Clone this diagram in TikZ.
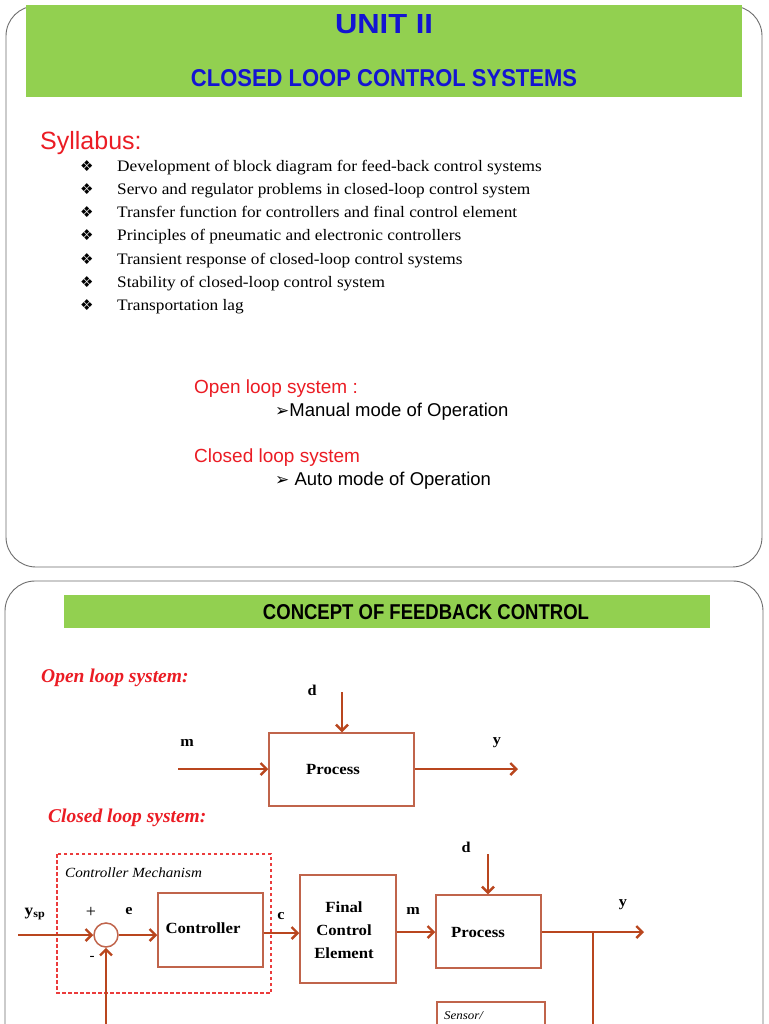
\documentclass[tikz,border=0pt]{standalone}
\usepackage{fontspec}
\usepackage{graphicx}
\setmainfont{Liberation Serif}
\newfontfamily\wideserif[FakeStretch=1.08]{Liberation Serif}
\newfontfamily\arialf{Liberation Sans}
\newfontfamily\dejavuf{DejaVu Sans}
\usetikzlibrary{arrows.meta}
\definecolor{bannergreen}{RGB}{146,208,80}
\definecolor{titleblue}{RGB}{20,20,210}
\definecolor{slidered}{RGB}{235,28,36}
\definecolor{arrowbrown}{RGB}{185,70,30}
\definecolor{boxbrown}{RGB}{192,100,75}
\definecolor{dashred}{RGB}{235,60,60}
\definecolor{slidegray}{RGB}{110,110,110}
\tikzset{
  slideframe/.style={draw=slidegray, line width=0.9pt, rounded corners=30pt},
  banner/.style={fill=bannergreen, draw=none},
  blockbox/.style={draw=boxbrown, line width=1.5pt},
  flow/.style={draw=arrowbrown, line width=2.4pt, -{Straight Barb[length=6pt,width=12pt]}},
  flowline/.style={draw=arrowbrown, line width=2.4pt},
  sumcircle/.style={circle, draw=boxbrown, line width=1.5pt, minimum size=24pt, inner sep=0pt},
  lbl/.style={font=\wideserif\fontsize{15}{17}\selectfont\bfseries, inner sep=0pt},
  blocktext/.style={font=\wideserif\fontsize{15.5}{23}\selectfont\bfseries, inner sep=0pt, align=center},
  itemtext/.style={font=\wideserif\fontsize{16}{18}\selectfont, anchor=base west, inner sep=0pt},
  bulletmark/.style={font=\dejavuf\fontsize{15}{17}\selectfont, anchor=base west, inner sep=0pt},
  redhead/.style={font=\arialf\fontsize{19}{22}\selectfont, text=slidered, anchor=base west, inner sep=0pt},
  blackhead/.style={font=\arialf\fontsize{18.5}{22}\selectfont, anchor=base west, inner sep=0pt},
  reditalic/.style={font=\fontsize{19.5}{22}\selectfont\bfseries\itshape, text=slidered, anchor=base west, inner sep=0pt}
}
\begin{document}
\begin{tikzpicture}[x=1pt,y=-1pt]
\path[use as bounding box] (0,0) rectangle (768,1024);
\clip (0,0) rectangle (768,1024);
\fill[white] (0,0) rectangle (768,1024);

% ---------- slide 1 ----------
\draw[slideframe] (6,6) rectangle (762,567);
\fill[banner] (26,5) rectangle (742,97);
\node[text=titleblue, inner sep=0pt] (unit) at (384,24) {\resizebox{98pt}{19pt}{\arialf\bfseries UNIT II}};
\node[text=titleblue, inner sep=0pt] (title) at (384,78) {\resizebox{386pt}{17pt}{\arialf\bfseries CLOSED LOOP CONTROL SYSTEMS}};

\node[redhead, font=\arialf\fontsize{25}{28}\selectfont] (syl) at (40,150) {Syllabus:};
\foreach \t [count=\i] in {Development of block diagram for feed-back control systems,
  Servo and regulator problems in closed-loop control system,
  Transfer function for controllers and final control element,
  Principles of pneumatic and electronic controllers,
  Transient response of closed-loop control systems,
  Stability of closed-loop control system,
  Transportation lag}{
  \node[bulletmark] (b\i) at (80,{148+23.2*\i}) {❖};
  \node[itemtext] (it\i) at (117,{148+23.2*\i}) {\t};
}

\node[redhead] (olh) at (194,393) {Open loop system :};
\node[blackhead] (olm) at (275,416) {{\dejavuf\fontsize{17}{18}\selectfont ➢}Manual mode of Operation};
\node[redhead] (clh) at (194,462) {Closed loop system};
\node[blackhead] (clm) at (275,485) {{\dejavuf\fontsize{17}{18}\selectfont ➢} Auto mode of Operation};

% ---------- slide 2 ----------
\draw[slideframe] (5,581) rectangle (763,1100);
\fill[banner] (64,595) rectangle (710,628);
\node[inner sep=0pt] (concept) at (426,612) {\resizebox{326pt}{15pt}{\arialf\bfseries CONCEPT OF FEEDBACK CONTROL}};

\node[reditalic] (olt) at (41,682) {Open loop system:};

% open loop diagram
\node[blockbox, minimum width=145pt, minimum height=73pt] (p1) at (341.5,769.5) {};
\node[lbl, font=\wideserif\fontsize{15.5}{18}\selectfont\bfseries] (p1t) at (333,769) {Process};
\node[lbl] (d1) at (312,690) {d};
\coordinate (d1s) at (342,692);
\draw[flow] (d1s) -- (d1s |- p1.north);
\node[lbl] (m1) at (187,743) {m};
\coordinate (m1s) at (178,769);
\draw[flow] (m1s) -- (p1.west |- m1s);
\node[lbl] (y1) at (497,743) {y};
\coordinate (y1e) at (518,769);
\draw[flow] (p1.east |- y1e) -- (y1e);

\node[reditalic] (clt) at (48,822) {Closed loop system:};

% closed loop diagram
\draw[draw=dashred, line width=1.3pt, dash pattern=on 3.5pt off 2.5pt] (57,854) rectangle (271,993);
\node[font=\wideserif\fontsize{14}{16}\selectfont\itshape, anchor=west, inner sep=0pt] (cm) at (65,873) {Controller Mechanism};

\node[sumcircle] (sum) at (106,935) {};
\node[lbl, font=\wideserif\fontsize{16}{18}\selectfont\bfseries] (ysp) at (35,914) {y\textsubscript{sp}};
\coordinate (yin) at (18,935);
\draw[flow] (yin) -- (sum.west);
\node[lbl, font=\fontsize{18}{20}\selectfont\mdseries] (plus) at (91,912) {+};
\node[lbl] (e) at (129,911) {e};
\node[lbl, font=\fontsize{15}{17}\selectfont\mdseries] (minus) at (92,958) {-};

\node[blockbox, minimum width=105pt, minimum height=74pt] (ctrl) at (210.5,930) {};
\node[blocktext] (ctrlt) at (203,928) {Controller};
\draw[flow] (sum.east) -- (ctrl.west |- sum.east);

\node[blockbox, minimum width=96pt, minimum height=108pt] (fce) at (348,929) {};
\node[blocktext] (fcet) at (344,930) {Final\\Control\\Element};
\node[lbl] (c) at (281,916) {c};
\coordinate (cy) at (0,933);
\draw[flow] (ctrl.east |- cy) -- (fce.west |- cy);

\node[blockbox, minimum width=105pt, minimum height=73pt] (p2) at (488.5,931.5) {};
\node[blocktext] (p2t) at (478,932) {Process};
\node[lbl] (m2) at (413,911) {m};
\coordinate (my) at (0,932);
\draw[flow] (fce.east |- my) -- (p2.west |- my);

\node[lbl] (d2) at (466,847) {d};
\coordinate (d2s) at (488,854);
\draw[flow] (d2s) -- (d2s |- p2.north);

\node[lbl] (y2) at (623,905) {y};
\coordinate (yout) at (644,932);
\coordinate (tap) at (593,932);
\draw[flow] (p2.east |- yout) -- (yout);
\coordinate (tapdown) at (593,1040);
\draw[flowline] (tap) -- (tapdown);

\node[blockbox, minimum width=108pt, minimum height=60pt, anchor=north west] (sens) at (436,1001) {};
\node[font=\wideserif\fontsize{12}{14}\selectfont\itshape, anchor=north west, inner sep=0pt] (senst) at (444,1011) {Sensor/};

\coordinate (fbin) at (106,1040);
\draw[flow] (fbin) -- (sum.south);
\end{tikzpicture}
\end{document}
